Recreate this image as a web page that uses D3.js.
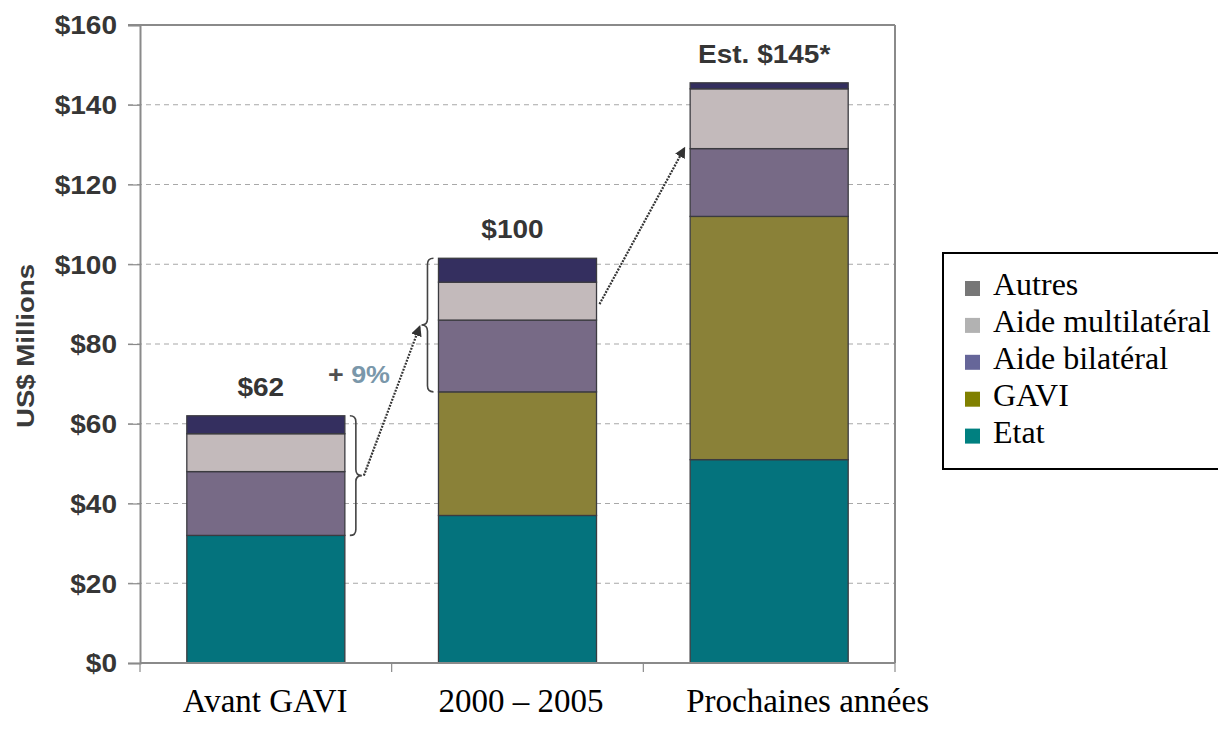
<!DOCTYPE html>
<html><head><meta charset="utf-8">
<script src="https://cdn.jsdelivr.net/npm/d3@7"></script>
<style>body{margin:0;background:#fff}svg{display:block}</style>
</head><body><svg id="c" width="1218" height="730"></svg>
<script>
// ---- data ----
const categories = ["Avant GAVI", "2000 – 2005", "Prochaines années"];
const seriesNames = ["Etat", "GAVI", "Aide bilatéral", "Aide multilatéral", "Autres"];
const etat = [32, 37, 51];
const gavi = [0, 31, 61];
const bilateral = [16, 18, 17];
const multilateral = [9.5, 9.5, 15];
const autres = [4.5, 6, 1.5];
const totalLabels = ["$62", "$100", "Est. $145*"];
const yTicks = [0, 20, 40, 60, 80, 100, 120, 140, 160];
const growthLabel = ["+ ", "9%"];

// ---- styles ----
const barColors = ["#04737d", "#8a8138", "#776a86", "#c3babb", "#342f5f"];
const legendColors = ["#008080", "#808000", "#666699", "#b2b2b2", "#777777"];
const sans = "'Liberation Sans', Arial, sans-serif";
const serif = "'Liberation Serif', 'Times New Roman', serif";
const SX = 1.12; // horizontal stretch of chart lettering

const svg = d3.select("#c");
const M = {left: 140, right: 895, top: 25, bottom: 663};

const x = d3.scaleBand().domain(categories).range([M.left, M.right])
  .paddingInner(0.372).paddingOuter(0.186);
const y = d3.scaleLinear().domain([0, 160]).range([M.bottom, M.top]);

const rows = categories.map((c, i) => ({
  cat: c, "Etat": etat[i], "GAVI": gavi[i], "Aide bilatéral": bilateral[i],
  "Aide multilatéral": multilateral[i], "Autres": autres[i]
}));
const stacked = d3.stack().keys(seriesNames)(rows);

// gridlines
svg.append("g").selectAll("line").data(yTicks.filter(t => t > 0 && t < 160)).join("line")
  .attr("x1", M.left - 12).attr("x2", M.right)
  .attr("y1", d => y(d)).attr("y2", d => y(d))
  .attr("stroke", "#a8a8a8").attr("stroke-width", 1.2).attr("stroke-dasharray", "5,4");

// frame top & right
svg.append("line").attr("x1", M.left - 12).attr("x2", M.right).attr("y1", y(160)).attr("y2", y(160))
  .attr("stroke", "#8a8a8a").attr("stroke-width", 2);
svg.append("line").attr("x1", M.right).attr("x2", M.right).attr("y1", y(160)).attr("y2", y(0))
  .attr("stroke", "#8a8a8a").attr("stroke-width", 2);

// bars
svg.append("g").selectAll("g").data(stacked).join("g")
  .attr("fill", (d, i) => barColors[i])
  .selectAll("rect").data(d => d.filter(s => s[1] - s[0] > 0)).join("rect")
  .attr("x", d => x(d.data.cat)).attr("width", x.bandwidth())
  .attr("y", d => y(d[1])).attr("height", d => y(d[0]) - y(d[1]))
  .attr("stroke", "#3b3b40").attr("stroke-width", 1.3);

// y axis
const yAxis = svg.append("g").attr("transform", `translate(${M.left},0)`)
  .call(d3.axisLeft(y).tickValues(yTicks).tickSize(12).tickFormat(d => "$" + d));
yAxis.select(".domain").attr("stroke", "#8a8a8a").attr("stroke-width", 2);
yAxis.selectAll(".tick line").attr("stroke", "#8a8a8a").attr("stroke-width", 1.2);
yAxis.selectAll(".tick text")
  .attr("x", -23 / SX).attr("dy", "0.35em")
  .attr("transform", `scale(${SX},1)`)
  .attr("font-family", sans).attr("font-weight", "bold").attr("font-size", 25).attr("fill", "#363636");

// x axis (boundary ticks)
const bounds = [M.left, ...categories.slice(1).map(c => x(c) - x.step() * x.paddingInner() / 2), M.right];
svg.append("line").attr("x1", M.left).attr("x2", M.right).attr("y1", y(0)).attr("y2", y(0))
  .attr("stroke", "#8a8a8a").attr("stroke-width", 2);
svg.append("g").selectAll("line").data(bounds).join("line")
  .attr("x1", d => d).attr("x2", d => d).attr("y1", y(0)).attr("y2", y(0) + 9)
  .attr("stroke", "#8a8a8a").attr("stroke-width", 1.2);

// category labels
svg.append("g").selectAll("text").data(categories).join("text")
  .attr("x", (d, i) => x(d) - 4 + (i === 1 ? 4 : 0)).attr("y", 712)
  .attr("font-family", serif).attr("font-size", 33).attr("fill", "#000")
  .text(d => d);

// y title
svg.append("text")
  .attr("transform", `translate(34,346) rotate(-90) scale(1.15,1)`)
  .attr("text-anchor", "middle")
  .attr("font-family", sans).attr("font-weight", "bold").attr("font-size", 24).attr("fill", "#3a3a3a")
  .text("US$ Millions");

// totals
const totals = categories.map((c, i) => etat[i] + gavi[i] + bilateral[i] + multilateral[i] + autres[i]);
svg.append("g").selectAll("text").data(categories).join("text")
  .attr("transform", (d, i) => `translate(${x(d) + x.bandwidth() / 2 - 5},${y(totals[i]) - 20}) scale(${SX},1)`)
  .attr("text-anchor", "middle")
  .attr("font-family", sans).attr("font-weight", "bold").attr("font-size", 25).attr("fill", "#353535")
  .text((d, i) => totalLabels[i]);

// braces
function brace(xPos, y0, y1, dir) {
  const w = 6 * dir, m = (y0 + y1) / 2, r = 6;
  return `M${xPos},${y0} Q${xPos + w},${y0} ${xPos + w},${y0 + r} L${xPos + w},${m - r} Q${xPos + w},${m} ${xPos + 2 * w},${m}`
    + ` Q${xPos + w},${m} ${xPos + w},${m + r} L${xPos + w},${y1 - r} Q${xPos + w},${y1} ${xPos},${y1}`;
}
const b1x = x(categories[0]) + x.bandwidth() + 5;
const b2x = x(categories[1]) - 5;
svg.append("path").attr("d", brace(b1x, y(totals[0]), y(etat[0]), 1))
  .attr("fill", "none").attr("stroke", "#444").attr("stroke-width", 1.6);
svg.append("path").attr("d", brace(b2x, y(totals[1]), y(etat[1] + gavi[1]), -1))
  .attr("fill", "none").attr("stroke", "#444").attr("stroke-width", 1.6);

// arrows
svg.append("defs").append("marker").attr("id", "ah").attr("viewBox", "0 0 10 10")
  .attr("refX", 8).attr("refY", 5).attr("markerWidth", 5).attr("markerHeight", 5).attr("orient", "auto")
  .append("path").attr("d", "M0,0 L10,5 L0,10 z").attr("fill", "#333");
const a1 = {x1: b1x + 14, y1: y((totals[0] + etat[0]) / 2), x2: b2x - 14, y2: y((totals[1] + etat[1] + gavi[1]) / 2) + 2};
svg.append("line").attr("x1", a1.x1).attr("y1", a1.y1).attr("x2", a1.x2).attr("y2", a1.y2)
  .attr("stroke", "#333").attr("stroke-width", 2.2).attr("stroke-dasharray", "2,1.2").attr("marker-end", "url(#ah)");
const a2 = {x1: x(categories[1]) + x.bandwidth() + 3, y1: y(90), x2: x(categories[2]) - 6, y2: y(129)};
svg.append("line").attr("x1", a2.x1).attr("y1", a2.y1).attr("x2", a2.x2).attr("y2", a2.y2)
  .attr("stroke", "#333").attr("stroke-width", 2.2).attr("stroke-dasharray", "2,1.2").attr("marker-end", "url(#ah)");

// growth label
const g = svg.append("text").attr("transform", `translate(328,383) scale(${SX},1)`)
  .attr("font-family", sans).attr("font-weight", "bold").attr("font-size", 24);
g.append("tspan").attr("fill", "#505050").text(growthLabel[0]);
g.append("tspan").attr("fill", "#7a97aa").text(growthLabel[1]);

// legend
svg.append("rect").attr("x", 943).attr("y", 253).attr("width", 300).attr("height", 216)
  .attr("fill", "none").attr("stroke", "#000").attr("stroke-width", 2);
const legendOrder = seriesNames.map((n, i) => ({n, c: legendColors[i]})).reverse();
const li = svg.append("g").selectAll("g").data(legendOrder).join("g")
  .attr("transform", (d, i) => `translate(965,${295 + i * 36.9})`);
li.append("rect").attr("x", 0).attr("y", -14).attr("width", 15).attr("height", 15).attr("fill", d => d.c);
li.append("text").attr("x", 28).attr("y", 0)
  .attr("font-family", serif).attr("font-size", 32).attr("fill", "#000").text(d => d.n);
</script></body></html>
